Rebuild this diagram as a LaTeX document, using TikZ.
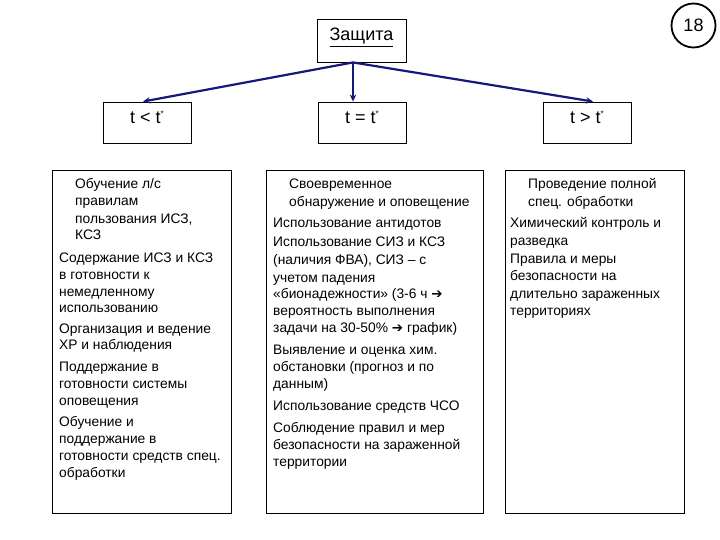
\documentclass[tikz,border=0pt]{standalone}
\usepackage{fontspec}
\setmainfont{Liberation Sans}
\newfontfamily\dv{DejaVu Sans}
\usetikzlibrary{arrows.meta}
\definecolor{navy}{RGB}{24,24,122}
\newcommand{\ar}{{\dv\fontsize{13.5}{13}\selectfont ➔}}
\newcommand{\st}{\raisebox{7pt}{\fontsize{8}{8}\selectfont *}}
\begin{document}
\begin{tikzpicture}[x=1pt,y=-1pt,
  box/.style={draw=black,line width=0.9pt,inner sep=0,fill=white},
  txt/.style={anchor=base west,inner sep=0,font=\fontsize{13.8}{16}\selectfont},
  head/.style={anchor=base,inner sep=0,font=\fontsize{18}{20}\selectfont},
  arr/.style={draw=navy,line width=2.2pt,-{Stealth[length=7pt,width=6.5pt]}}]
\useasboundingbox (0,0) rectangle (720,540);
% page number
\node[draw=black,line width=1.8pt,circle,minimum size=44pt,inner sep=0,font=\fontsize{18}{20}\selectfont] (num) at (693.5,25.5) {18};
% top
\node[box,minimum width=89pt,minimum height=43pt] (top) at (361.5,40.5) {};
\node[head] (toptxt) at (361.5,41) {\underline{Защита}};
% level 2
\node[box,minimum width=88pt,minimum height=41pt] (lt) at (147,122.5) {};
\node[box,minimum width=88pt,minimum height=41pt] (eq) at (362,122.5) {};
\node[box,minimum width=88pt,minimum height=41pt] (gt) at (587,122.5) {};
\node[head] (lttxt) at (147,124) {t < t\st};
\node[head] (eqtxt) at (362,124) {t = t\st};
\node[head] (gttxt) at (587,124) {t > t\st};
% arrows
\draw[arr] ([xshift=-8.5pt]top.south) -- ([xshift=-4pt]lt.north);
\draw[arr] ([xshift=-8.5pt]top.south) -- ([xshift=-9pt]eq.north);
\draw[arr] ([xshift=-8.5pt]top.south) -- ([xshift=6pt]gt.north);
% big boxes
\node[box,minimum width=179pt,minimum height=343pt] (c1) at (141.5,341.5) {};
\node[box,minimum width=217pt,minimum height=343pt] (c2) at (374.5,341.5) {};
\node[box,minimum width=179pt,minimum height=343pt] (c3) at (595,341.5) {};
% column 1
\node[txt] (a1) at (75,189) {Обучение л/с};
\node[txt] (a2) at (75,206) {правилам};
\node[txt] (a3) at (75,223) {пользования ИСЗ,};
\node[txt] (a4) at (75,240) {КСЗ};
\node[txt] (a5) at (59,262) {Содержание ИСЗ и КСЗ};
\node[txt] (a6) at (59,279) {в готовности к};
\node[txt] (a7) at (59,296) {немедленному};
\node[txt] (a8) at (59,312) {использованию};
\node[txt] (a9) at (59,333) {Организация и ведение};
\node[txt] (a10) at (59,349) {ХР и наблюдения};
\node[txt] (a11) at (59,371) {Поддержание в};
\node[txt] (a12) at (59,388) {готовности системы};
\node[txt] (a13) at (59,405) {оповещения};
\node[txt] (a14) at (59,426) {Обучение и};
\node[txt] (a15) at (59,443) {поддержание в};
\node[txt] (a16) at (59,460) {готовности средств спец.};
\node[txt] (a17) at (59,477) {обработки};
% column 2
\node[txt] (b1) at (289,189) {Своевременное};
\node[txt] (b2) at (289,207) {обнаружение и оповещение};
\node[txt] (b3) at (273,228) {Использование антидотов};
\node[txt] (b4) at (273,247) {Использование СИЗ и КСЗ};
\node[txt] (b5) at (273,264) {(наличия ФВА), СИЗ – с};
\node[txt] (b6) at (273,282) {учетом падения};
\node[txt] (b7) at (273,298) {«бионадежности» (3-6 ч \ar};
\node[txt] (b8) at (273,315) {вероятность выполнения};
\node[txt] (b9) at (273,332) {задачи на 30-50\% \ar{} график)};
\node[txt] (b10) at (273,354) {Выявление и оценка хим.};
\node[txt] (b11) at (273,371) {обстановки (прогноз и по};
\node[txt] (b12) at (273,388) {данным)};
\node[txt] (b13) at (273,410) {Использование средств ЧСО};
\node[txt] (b14) at (273,432) {Соблюдение правил и мер};
\node[txt] (b15) at (273,449) {безопасности на зараженной};
\node[txt] (b16) at (273,466) {территории};
% column 3
\node[txt] (c31) at (528,189) {Проведение полной};
\node[txt] (c32) at (528,207) {спец. обработки};
\node[txt] (c33) at (510,228) {Химический контроль и};
\node[txt] (c34) at (510,245) {разведка};
\node[txt] (c35) at (510,263) {Правила и меры};
\node[txt] (c36) at (510,280) {безопасности на};
\node[txt] (c37) at (510,298) {длительно зараженных};
\node[txt] (c38) at (510,315) {территориях};
\end{tikzpicture}
\end{document}
